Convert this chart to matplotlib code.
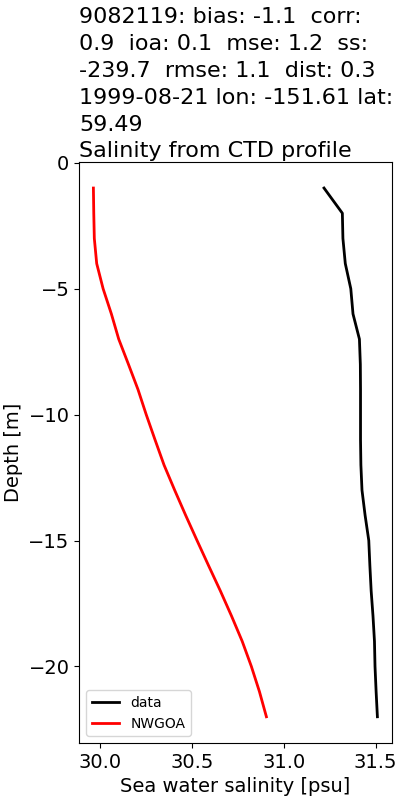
import matplotlib
matplotlib.use("Agg")
import matplotlib.pyplot as plt

depth = [-1, -2, -3, -4, -5, -6, -7, -8, -9, -10, -11, -12, -13, -14, -15, -16, -17, -18, -19, -20, -21, -22]
data_sal = [31.219, 31.319, 31.322, 31.335, 31.365, 31.377, 31.412, 31.417, 31.418, 31.418, 31.418, 31.42,
            31.426, 31.443, 31.463, 31.469, 31.476, 31.486, 31.494, 31.497, 31.503, 31.51]
model_sal = [29.962, 29.964, 29.967, 29.98, 30.015, 30.06, 30.10, 30.153, 30.205, 30.25, 30.298, 30.347,
             30.405, 30.465, 30.527, 30.59, 30.654, 30.715, 30.773, 30.823, 30.867, 30.905]

title = ("9082119: bias: -1.1  corr:\n0.9  ioa: 0.1  mse: 1.2  ss:\n-239.7  rmse: 1.1  dist: 0.3\n"
         "1999-08-21 lon: -151.61 lat:\n59.49\nSalinity from CTD profile")

fig = plt.figure(figsize=(4, 8), dpi=100)
ax = fig.add_axes([0.198, 0.071, 0.781, 0.727])
ax.plot(data_sal, depth, color="black", lw=2, label="data")
ax.plot(model_sal, depth, color="red", lw=2, label="NWGOA")
ax.set_title(title, fontsize=16, loc="left", pad=3, linespacing=1.43)
ax.set_xlabel("Sea water salinity [psu]", fontsize=14)
ax.set_ylabel("Depth [m]", fontsize=14)
ax.tick_params(labelsize=14)
ax.set_xticks([30.0, 30.5, 31.0, 31.5])
ax.legend(loc="lower left", fontsize=10)
fig.savefig("out.png", dpi=100)
